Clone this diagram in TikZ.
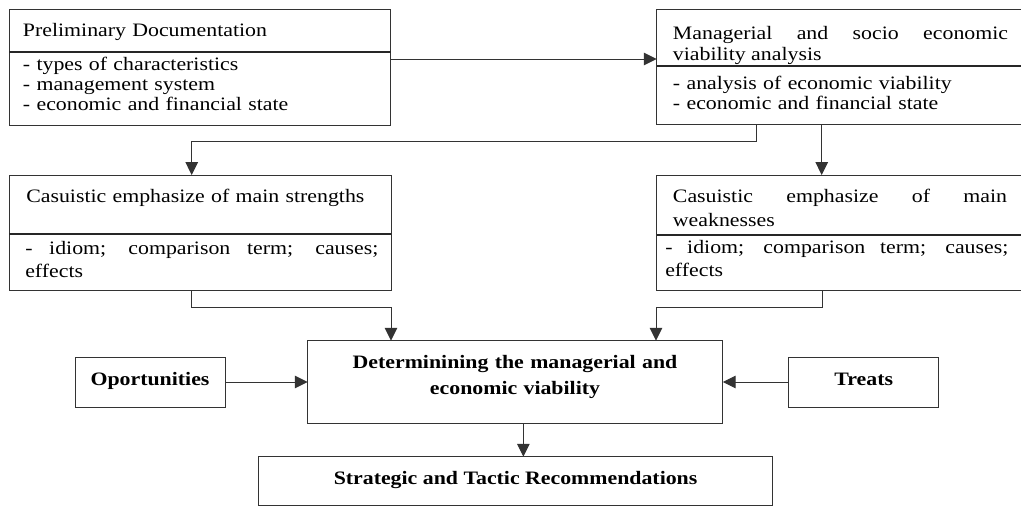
\documentclass[tikz,border=0pt]{standalone}
\usepackage{fontspec}
\setmainfont{Liberation Serif}[FakeStretch=1.15]
\usetikzlibrary{arrows.meta}

\begin{document}
\begin{tikzpicture}[x=0.025cm, y=-0.025cm,
        frame/.style={draw=black!80, line width=0.7pt, outer sep=0pt, inner sep=0pt, anchor=north west},
        bar/.style={draw=black!85, line width=1.5pt},
        txt/.style={inner sep=0pt, anchor=base west, align=left, font=\fontsize{13.5}{#1}\selectfont},
        txt/.default=14pt,
        just/.style={txt=#1, align=justify},
        lab/.style={frame, text height=0.7em, text depth=0.22em, font=\fontsize{13.5}{16}\selectfont\bfseries},
        arr/.style={draw=black!80, line width=0.7pt, -{Triangle[length=3.2mm, width=3.1mm]}}]
    \useasboundingbox (0,0) rectangle (1021,507);

    \node[frame, minimum width=9.535cm, minimum height=2.905cm] (prelim) at (9.3,9.3) {};
    \node[frame, minimum width=9.4cm, minimum height=2.89cm] (viab) at (656.7,9.3) {};
    \node[frame, minimum width=9.54cm, minimum height=2.89cm] (strength) at (9.3,175) {};
    \node[frame, minimum width=9.4cm, minimum height=2.875cm] (weak) at (656.7,175) {};
    \node[frame, minimum width=10.375cm, minimum height=2.08cm] (determ) at (307.7,340.7) {};
    \node[lab, minimum width=3.75cm, minimum height=1.25cm] (oport) at (75,357) {Oportunities};
    \node[lab, minimum width=3.75cm, minimum height=1.25cm] (treats) at (788.7,357) {Treats};
    \node[lab, minimum width=12.86cm, minimum height=1.225cm] (recom) at (258.3,456.7) {Strategic and Tactic Recommendations};

    \draw[bar] ([shift={(0,42.4)}]prelim.north west) -- ([shift={(0,42.4)}]prelim.north east);
    \draw[bar] ([shift={(0,56.4)}]viab.north west) -- ([shift={(0,56.4)}]viab.north east);
    \draw[bar] ([shift={(0,59)}]strength.north west) -- ([shift={(0,59)}]strength.north east);
    \draw[bar] ([shift={(0,60)}]weak.north west) -- ([shift={(0,60)}]weak.north east);

    \node[txt, text width=9cm] (prelimtitle) at (22.7,36) {Preliminary Documentation};
    \node[txt, text width=9cm] (prelimlist) at (22.7,70.7) {- types of characteristics\\- management system\\- economic and financial state};
    \node[just=15.6pt, text width=8.375cm] (viabtitle) at (672.7,39) {Managerial and socio economic\linebreak viability analysis};
    \node[txt=14.7pt, text width=8.375cm] (viablist) at (672.7,89.3) {- analysis of economic viability\\- economic and financial state};
    \node[txt, text width=8.8cm] (strengthtitle) at (26,202.7) {Casuistic emphasize of main strengths};
    \node[just=17pt, text width=8.825cm] (strengthlist) at (25,254) {- idiom; comparison term; causes;\linebreak effects};
    \node[just=17pt, text width=8.35cm] (weaktitle) at (672.7,202.7) {Casuistic emphasize of main\linebreak weaknesses};
    \node[just=16.8pt, text width=8.575cm] (weaklist) at (665,253) {- idiom; comparison term; causes;\linebreak effects};
    \node[txt=18.4pt, anchor=base, align=center, text width=10cm, font=\fontsize{13.5}{18.4}\selectfont\bfseries] (determtext) at (515,368.3) {Determinining the managerial and\\economic viability};

    \coordinate (down) at ([xshift=5.39cm]determ.south west);
    \draw[arr] ([shift={(0,49.7)}]prelim.north east) -- ([shift={(0,49.7)}]viab.north west);
    \draw[arr] ([shift={(165,0)}]viab.south west) -- ([shift={(165,0)}]weak.north west);
    \draw[arr] ([shift={(100,0)}]viab.south west) -- ++(0,16.7) -| ([shift={(182.4,0)}]strength.north west);
    \draw[arr] ([shift={(182.4,0)}]strength.south west) -- ++(0,16.5) -| ([shift={(83.3,0)}]determ.north west);
    \draw[arr] ([shift={(166,0)}]weak.south west) -- ++(0,17) -| ([shift={(348.3,0)}]determ.north west);
    \draw[arr] (oport.east) -- (oport.east -| determ.west);
    \draw[arr] (treats.west) -- (treats.west -| determ.east);
    \draw[arr] (down) -- (down |- recom.north);
\end{tikzpicture}
\end{document}
